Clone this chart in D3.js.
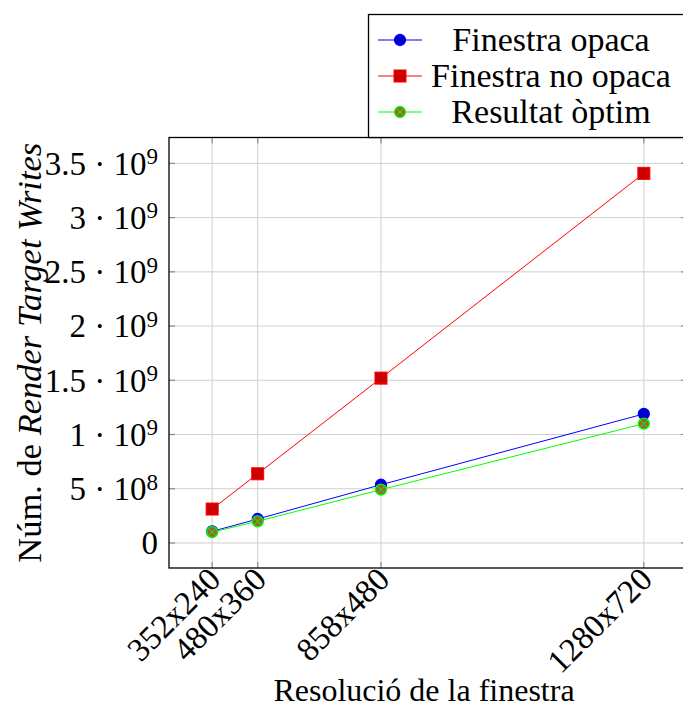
<!DOCTYPE html>
<html>
<head>
<meta charset="utf-8">
<script src="https://cdn.jsdelivr.net/npm/d3@7"></script>
<style>
    body { margin: 0; background: #fff; }
    svg { display: block; font-family: "Liberation Serif", "DejaVu Serif", serif; }
</style>
</head>
<body>
<div id="chart"></div>
<script>
// resolutions on the x axis (placed by pixel count)
var resolutions = ["352x240", "480x360", "858x480", "1280x720"];
var pixelCounts = [84480, 172800, 411840, 921600];

var seriesNames = ["Finestra opaca", "Finestra no opaca", "Resultat òptim"];
var opacaValues = [0.107e9, 0.221e9, 0.537e9, 1.19e9];
var noOpacaValues = [0.313e9, 0.638e9, 1.52e9, 3.408e9];
var optimValues = [0.1e9, 0.2e9, 0.492e9, 1.1e9];

var width = 683,
    height = 708;

var plot = { left: 169, top: 137.5, right: 687, bottom: 568 };

var svg = d3.select("#chart")
    .append("svg")
    .attr("width", width)
    .attr("height", height);

// pgfplots style: enlarge limits by 10% of data range
function enlarge(ext) {
    var pad = (ext[1] - ext[0]) * 0.1;
    return [ext[0] - pad, ext[1] + pad];
}

var xScale = d3.scaleLinear()
    .domain(enlarge(d3.extent(pixelCounts)))
    .range([plot.left, plot.right]);

var yScale = d3.scaleLinear()
    .domain(enlarge(d3.extent(d3.merge([opacaValues, noOpacaValues, optimValues]))))
    .range([plot.bottom, plot.top]);

var yTicks = yScale.ticks(8).filter(function(d) { return d >= 0; });

// grid
var grid = svg.append("g").attr("stroke", "#cfcfcf").attr("stroke-width", 1);
grid.selectAll(".vgrid")
    .data(pixelCounts)
    .enter().append("line")
        .attr("x1", function(d) { return xScale(d); })
        .attr("x2", function(d) { return xScale(d); })
        .attr("y1", plot.top)
        .attr("y2", plot.bottom);
grid.selectAll(".hgrid")
    .data(yTicks)
    .enter().append("line")
        .attr("x1", plot.left)
        .attr("x2", plot.right)
        .attr("y1", function(d) { return yScale(d); })
        .attr("y2", function(d) { return yScale(d); });

// inner tick marks on all four sides
var tickLen = 6;
var ticks = svg.append("g").attr("stroke", "#8c8c8c").attr("stroke-width", 1.2);
pixelCounts.forEach(function(d) {
    ticks.append("line").attr("x1", xScale(d)).attr("x2", xScale(d))
        .attr("y1", plot.bottom).attr("y2", plot.bottom - tickLen);
    ticks.append("line").attr("x1", xScale(d)).attr("x2", xScale(d))
        .attr("y1", plot.top).attr("y2", plot.top + tickLen);
});
yTicks.forEach(function(d) {
    ticks.append("line").attr("x1", plot.left).attr("x2", plot.left + tickLen)
        .attr("y1", yScale(d)).attr("y2", yScale(d));
    ticks.append("line").attr("x1", plot.right).attr("x2", plot.right - tickLen)
        .attr("y1", yScale(d)).attr("y2", yScale(d));
});

// series
var series = [
    { values: opacaValues, color: "#0000ff", fill: "#0000cc", mark: "circle" },
    { values: noOpacaValues, color: "#ff0000", fill: "#cc0000", mark: "square" },
    { values: optimValues, color: "#00ff00", fill: "#996633", mark: "otimes" }
];

var line = d3.line()
    .x(function(d) { return xScale(d.x); })
    .y(function(d) { return yScale(d.y); });

function drawMark(g, s, cx, cy) {
    if (s.mark === "square") {
        g.append("rect")
            .attr("x", cx - 6).attr("y", cy - 6)
            .attr("width", 12).attr("height", 12)
            .attr("fill", s.fill).attr("stroke", s.color).attr("stroke-width", 1);
    } else {
        g.append("circle")
            .attr("cx", cx).attr("cy", cy).attr("r", 5.5)
            .attr("fill", s.fill).attr("stroke", s.color).attr("stroke-width", 1.3);
        if (s.mark === "otimes") {
            var k = 3.9;
            g.append("path")
                .attr("d", "M" + (cx - k) + "," + (cy - k) + "L" + (cx + k) + "," + (cy + k) +
                    "M" + (cx - k) + "," + (cy + k) + "L" + (cx + k) + "," + (cy - k))
                .attr("stroke", s.color).attr("stroke-width", 1);
        }
    }
}

series.forEach(function(s) {
    var data = pixelCounts.map(function(x, i) { return { x: x, y: s.values[i] }; });
    svg.append("path")
        .datum(data)
        .attr("fill", "none")
        .attr("stroke", s.color)
        .attr("stroke-width", 1)
        .attr("d", line);
    var g = svg.append("g");
    data.forEach(function(d) { drawMark(g, s, xScale(d.x), yScale(d.y)); });
});

// frame
svg.append("rect")
    .attr("x", plot.left).attr("y", plot.top)
    .attr("width", plot.right - plot.left).attr("height", plot.bottom - plot.top)
    .attr("fill", "none").attr("stroke", "#000").attr("stroke-width", 1.3);

// y tick labels like 3.5 · 10^9
function sciLabel(text, v) {
    if (v === 0) { text.text("0"); return; }
    var exp = Math.floor(Math.log10(v)),
        mant = +(v / Math.pow(10, exp)).toFixed(2);
    text.append("tspan").text(mant + " \u00b7 10");
    text.append("tspan").attr("dy", "-0.45em").attr("font-size", "0.7em").text(exp);
}

svg.append("g").selectAll(".ylab")
    .data(yTicks)
    .enter().append("text")
        .attr("x", 158)
        .attr("y", function(d) { return yScale(d); })
        .attr("dy", "0.34em")
        .attr("text-anchor", "end")
        .attr("font-size", 33)
        .each(function(d) { sciLabel(d3.select(this), d); });

// x tick labels, rotated 45°
svg.append("g").selectAll(".xlab")
    .data(pixelCounts)
    .enter().append("text")
        .attr("transform", function(d) { return "translate(" + (xScale(d) - 6) + "," + (plot.bottom - 3) + ") rotate(-45)"; })
        .attr("text-anchor", "end")
        .attr("dy", "0.7em")
        .attr("font-size", 33)
        .text(function(d, i) { return resolutions[i]; });

// axis titles
svg.append("text")
    .attr("x", (plot.left + plot.right) / 2 - 4)
    .attr("y", 701)
    .attr("text-anchor", "middle")
    .attr("font-size", 32)
    .text("Resolució de la finestra");

var yTitle = svg.append("text")
    .attr("transform", "translate(41," + (plot.top + plot.bottom) / 2 + ") rotate(-90)")
    .attr("text-anchor", "middle")
    .attr("font-size", 34.5);
yTitle.append("tspan").text("Núm. de ");
yTitle.append("tspan").attr("font-style", "italic").text("Render Target Writes");

// legend
var legend = svg.append("g");
legend.append("rect")
    .attr("x", 368.5).attr("y", 14.5)
    .attr("width", 330).attr("height", 123)
    .attr("fill", "#fff").attr("stroke", "#000").attr("stroke-width", 1.3);

series.forEach(function(s, i) {
    var cy = 40 + i * 36;
    legend.append("line")
        .attr("x1", 378).attr("x2", 422)
        .attr("y1", cy).attr("y2", cy)
        .attr("stroke", s.color).attr("stroke-width", 1);
    drawMark(legend, s, 400, cy);
    legend.append("text")
        .attr("x", 551).attr("y", cy)
        .attr("dy", "0.33em")
        .attr("text-anchor", "middle")
        .attr("font-size", 34)
        .text(seriesNames[i]);
});
</script>
</body>
</html>
